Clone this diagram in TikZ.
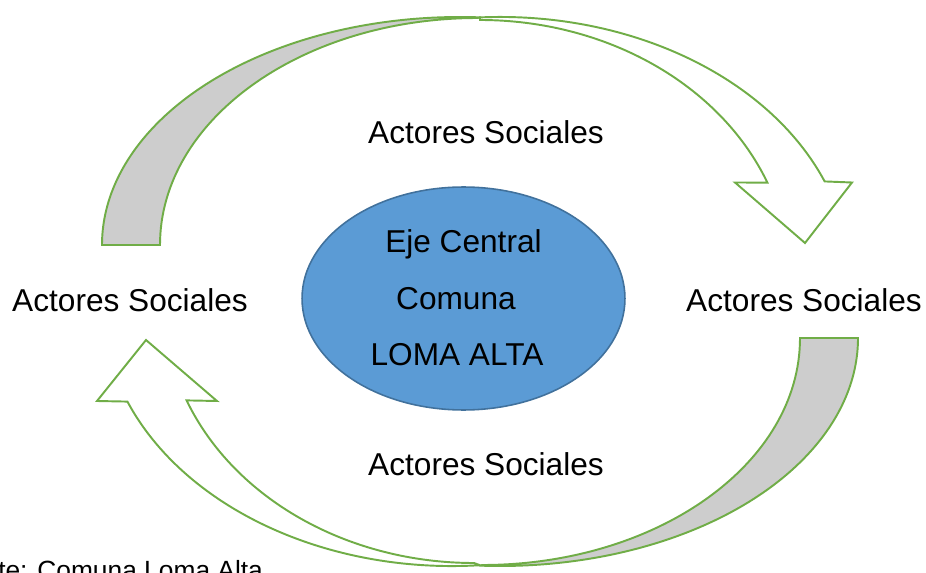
\documentclass[tikz,border=0pt]{standalone}
\usepackage{fontspec}
\setmainfont{Liberation Sans}
\usetikzlibrary{shapes.geometric}

\definecolor{verde}{HTML}{70AD47}
\definecolor{gris}{HTML}{CDCDCD}
\definecolor{azul}{HTML}{5B9BD5}
\definecolor{azulborde}{HTML}{41719C}

\begin{document}
\begin{tikzpicture}[x=0.02cm,y=0.02cm,
	flecha/.style={draw=verde, line width=1.1pt},
	actor/.style={font=\fontsize{18}{21}\selectfont, anchor=base},
	eje/.style={ellipse, draw=azulborde, line width=0.9pt, fill=azul, minimum width=6.46cm, minimum height=4.46cm, inner sep=0pt}]
\clip (0,0) rectangle (926,572);
% flecha de arriba
\path[flecha, fill=gris] (102,327) arc[start angle=180, end angle=87, x radius=358, y radius=228]
	-- (478,554) arc[start angle=90, end angle=180, x radius=318, y radius=227] -- cycle;
\path[flecha, fill=white] (480,554.6) arc[start angle=93.3, end angle=22, x radius=350, y radius=263]
	-- (852,389.5) -- (805,329) -- (735,389.5) -- (767.4,389.4)
	arc[start angle=22, end angle=90, x radius=310, y radius=260] -- cycle;
% flecha de abajo
\path[flecha, fill=gris] (858,234) arc[start angle=0, end angle=-93, x radius=358, y radius=228]
	-- (482,7) arc[start angle=-90, end angle=0, x radius=318, y radius=227] -- cycle;
\path[flecha, fill=white] (480,6.8) arc[start angle=274.6, end angle=202, x radius=350, y radius=263]
	-- (97,171) -- (146,232) -- (217,171) -- (186.6,171.6)
	arc[start angle=202, end angle=270, x radius=310, y radius=260] -- cycle;

\node[eje] (centro) at (463.5,273.5) {};
\node[actor] (eje1) at (463.5,319) {Eje Central};
\node[actor] (eje2) at (456,263) {Comuna};
\node[actor] (eje3) at (457,207) {LOMA ALTA};

\node[actor] (arriba) at (486,428) {Actores Sociales};
\node[actor] (abajo) at (486,97) {Actores Sociales};
\node[actor] (izq) at (130,261) {Actores Sociales};
\node[actor] (der) at (804,261) {Actores Sociales};

\node[anchor=base west, font=\fontsize{15}{18}\selectfont] (fuente) at (-68,-7) {Fuente: Comuna Loma Alta};
\end{tikzpicture}
\end{document}
